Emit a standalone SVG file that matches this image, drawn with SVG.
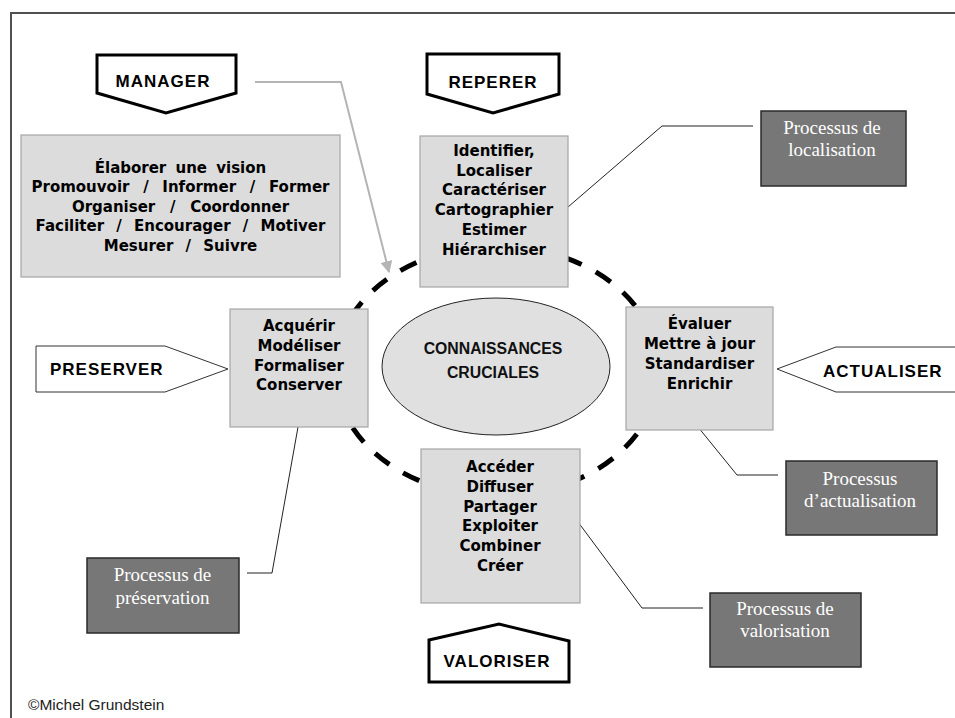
<svg xmlns="http://www.w3.org/2000/svg" width="955" height="718" viewBox="0 0 955 718">
  <style>
    .frame { fill: none; stroke: #505050; stroke-width: 2; }
    .pill { fill: #ffffff; stroke: #000000; stroke-width: 3; stroke-linejoin: miter; }
    .flag { fill: #ffffff; stroke: #333333; stroke-width: 1; }
    .verb { font-family: "Liberation Sans", Arial, sans-serif; font-weight: bold; font-size: 17px; letter-spacing: 1px; fill: #000; }
    .act { fill: #dcdcdc; stroke: #a6a6a6; stroke-width: 1.2; }
    .acttxt { font-family: "DejaVu Sans", Verdana, sans-serif; font-weight: bold; font-size: 15px; fill: #000; text-anchor: middle; }
    .core { fill: #e0e0e0; stroke: #222; stroke-width: 1; }
    .coretxt { font-family: "Liberation Sans", Arial, sans-serif; font-weight: bold; font-size: 15.8px; fill: #111; text-anchor: middle; }
    .proc { fill: #777777; stroke: #2a2a2a; stroke-width: 1.5; }
    .proctxt { font-family: "Liberation Serif", "Times New Roman", serif; font-size: 19px; fill: #ffffff; text-anchor: middle; }
    .cycle { fill: none; stroke: #000; stroke-width: 5; stroke-dasharray: 18 16; }
    .lead { fill: none; stroke: #222; stroke-width: 1; }
    .mgr { fill: none; stroke: #b4b4b4; stroke-width: 2; }
    .credit { font-family: "Liberation Sans", Arial, sans-serif; font-size: 15.5px; fill: #222; }
  </style>
  <defs>
    <marker id="grayHead" viewBox="0 0 10 10" refX="9" refY="5" markerWidth="6" markerHeight="6" markerUnits="strokeWidth" orient="auto">
      <path d="M0,0 L10,5 L0,10 Z" fill="#b4b4b4"/>
    </marker>
  </defs>

  <rect width="955" height="718" fill="#ffffff"/>
  <!-- page frame: top and left edges only -->
  <path class="frame" d="M11,718 V13 H955"/>

  <!-- knowledge cycle (dashed ring) -->
  <g id="cycle">
    <ellipse class="cycle" cx="497" cy="371" rx="162" ry="125"/>
  </g>

  <!-- connectors -->
  <g id="connectors">
    <polyline class="mgr" points="255,82 341,82 389,272" marker-end="url(#grayHead)"/>
    <polyline class="lead" points="568,207 662,126 753,126"/>
    <polyline class="lead" points="698,427 737,475 778,475"/>
    <polyline class="lead" points="298,427 272,573 247,573"/>
    <polyline class="lead" points="578,522 642,608 703,608"/>
  </g>

  <!-- central node -->
  <g id="connaissances">
    <ellipse class="core" cx="496" cy="366.5" rx="114" ry="68.5"/>
    <text class="coretxt" x="493" y="354">CONNAISSANCES</text>
    <text class="coretxt" x="493" y="377.5">CRUCIALES</text>
  </g>

  <!-- manager -->
  <g id="manager">
    <polygon class="pill" points="97,55 236,55 236,93 166,113 97,93"/>
    <text class="verb" x="163" y="87" text-anchor="middle">MANAGER</text>
  </g>
  <g id="manager-actions">
    <rect class="act" x="21" y="135" width="319" height="142"/>
    <text class="acttxt" x="180.5" y="172.5" word-spacing="4">Élaborer une vision</text>
    <text class="acttxt" x="180.5" y="192" word-spacing="8.5">Promouvoir / Informer / Former</text>
    <text class="acttxt" x="180.5" y="211.5" word-spacing="9.5">Organiser / Coordonner</text>
    <text class="acttxt" x="180.5" y="231" word-spacing="7">Faciliter / Encourager / Motiver</text>
    <text class="acttxt" x="180.5" y="250.5" word-spacing="7">Mesurer / Suivre</text>
  </g>

  <!-- reperer -->
  <g id="reperer">
    <polygon class="pill" points="427,54 559,54 559,94 493,113 427,94"/>
    <text class="verb" x="493" y="88" text-anchor="middle">REPERER</text>
  </g>
  <g id="reperer-actions">
    <rect class="act" x="420" y="136" width="148" height="151"/>
    <text class="acttxt" x="494" y="156">Identifier,</text>
    <text class="acttxt" x="494" y="175.7">Localiser</text>
    <text class="acttxt" x="494" y="195.4">Caractériser</text>
    <text class="acttxt" x="494" y="215">Cartographier</text>
    <text class="acttxt" x="494" y="234.8">Estimer</text>
    <text class="acttxt" x="494" y="254.5">Hiérarchiser</text>
  </g>
  <g id="proc-localisation">
    <rect class="proc" x="761" y="111" width="145" height="75"/>
    <text class="proctxt" x="832" y="133.5">Processus de</text>
    <text class="proctxt" x="832" y="156">localisation</text>
  </g>

  <!-- preserver -->
  <g id="preserver">
    <polygon class="flag" points="36,346 165,346 228,369 165,392 36,392"/>
    <text class="verb" x="50" y="375">PRESERVER</text>
  </g>
  <g id="preserver-actions">
    <rect class="act" x="230" y="309" width="138" height="118"/>
    <text class="acttxt" x="299" y="331">Acquérir</text>
    <text class="acttxt" x="299" y="351">Modéliser</text>
    <text class="acttxt" x="299" y="370.5">Formaliser</text>
    <text class="acttxt" x="299" y="390">Conserver</text>
  </g>
  <g id="proc-preservation">
    <rect class="proc" x="87" y="558" width="152" height="75"/>
    <text class="proctxt" x="162.5" y="581">Processus de</text>
    <text class="proctxt" x="162.5" y="604">préservation</text>
  </g>

  <!-- actualiser -->
  <g id="actualiser">
    <polygon class="flag" points="777,369 836,347 960,347 960,392 836,392"/>
    <text class="verb" x="823" y="377">ACTUALISER</text>
  </g>
  <g id="actualiser-actions">
    <rect class="act" x="626" y="307" width="147" height="123"/>
    <text class="acttxt" x="699.5" y="329.3">Évaluer</text>
    <text class="acttxt" x="699.5" y="349.3">Mettre à jour</text>
    <text class="acttxt" x="699.5" y="369.3">Standardiser</text>
    <text class="acttxt" x="699.5" y="388.7">Enrichir</text>
  </g>
  <g id="proc-actualisation">
    <rect class="proc" x="786" y="461" width="151" height="74"/>
    <text class="proctxt" x="860" y="485">Processus</text>
    <text class="proctxt" x="860" y="507">d’actualisation</text>
  </g>

  <!-- valoriser -->
  <g id="valoriser">
    <polygon class="pill" points="429,682 569,682 569,641 499,624 429,640"/>
    <text class="verb" x="497" y="667" text-anchor="middle">VALORISER</text>
  </g>
  <g id="valoriser-actions">
    <rect class="act" x="421" y="449" width="159" height="154"/>
    <text class="acttxt" x="500" y="471.7">Accéder</text>
    <text class="acttxt" x="500" y="492.3">Diffuser</text>
    <text class="acttxt" x="500" y="511.7">Partager</text>
    <text class="acttxt" x="500" y="531">Exploiter</text>
    <text class="acttxt" x="500" y="551">Combiner</text>
    <text class="acttxt" x="500" y="570.7">Créer</text>
  </g>
  <g id="proc-valorisation">
    <rect class="proc" x="710" y="593" width="151" height="74"/>
    <text class="proctxt" x="785" y="615">Processus de</text>
    <text class="proctxt" x="785" y="637">valorisation</text>
  </g>

  <text class="credit" x="28" y="710">©Michel Grundstein</text>
</svg>
